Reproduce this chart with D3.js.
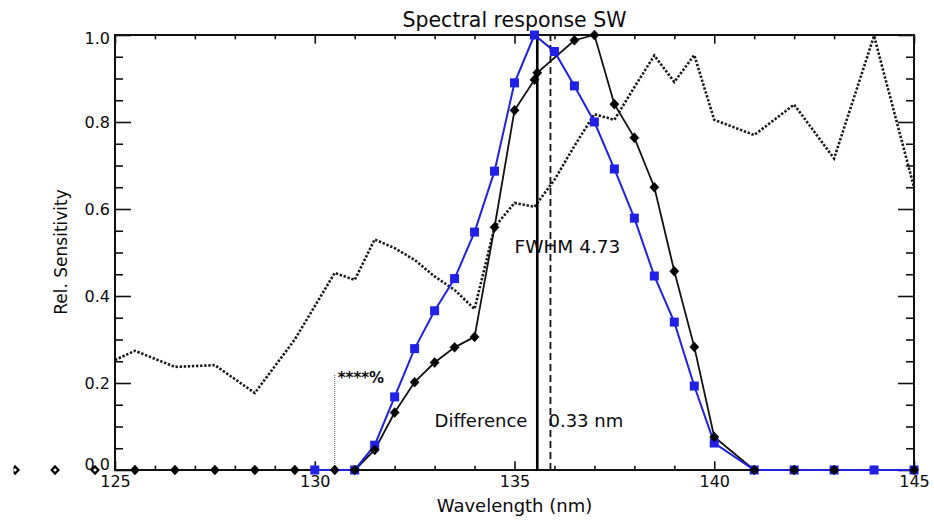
<!DOCTYPE html>
<html>
<head>
<meta charset="utf-8">
<script src="https://cdn.jsdelivr.net/npm/d3@7"></script>
<style>
body { margin: 0; background: #fff; }
svg { display: block; }
text { font-family: "DejaVu Sans", sans-serif; fill: #0a0a0a; }
</style>
</head>
<body>
<svg id="chart"></svg>
<script>
// measured response (black, diamonds)
var waveBlack = [122.5, 123.5, 124.5, 125.5, 126.5, 127.5, 128.5, 129.5, 130.5, 131, 131.5, 132, 132.5, 133, 133.5, 134, 134.5, 135, 135.5, 135.57, 136.5, 137, 137.5, 138, 138.5, 139, 139.5, 140, 141, 142, 143, 145];
var sensBlack = [0, 0, 0, 0, 0, 0, 0, 0, 0, 0, 0.046, 0.132, 0.202, 0.247, 0.282, 0.306, 0.558, 0.827, 0.897, 0.913, 0.988, 1.0, 0.841, 0.764, 0.65, 0.457, 0.283, 0.076, 0, 0, 0, 0];

// shifted response (blue, squares)
var waveBlue = [130, 131, 131.5, 132, 132.5, 133, 133.5, 134, 134.5, 135, 135.5, 136, 136.5, 137, 137.5, 138, 138.5, 139, 139.5, 140, 141, 142, 143, 144, 145];
var sensBlue = [0, 0, 0.057, 0.168, 0.279, 0.366, 0.44, 0.547, 0.687, 0.89, 1.0, 0.962, 0.883, 0.80, 0.692, 0.579, 0.446, 0.34, 0.193, 0.062, 0, 0, 0, 0, 0];

// dotted curve
var waveDot = [125, 125.5, 126.5, 127.5, 128.5, 129.5, 130.5, 131, 131.5, 132, 132.5, 133, 133.5, 134, 134.5, 135, 135.5, 136, 136.5, 137, 137.5, 138, 138.5, 139, 139.5, 140, 141, 142, 143, 144, 145];
var sensDot = [0.253, 0.274, 0.237, 0.241, 0.177, 0.30, 0.453, 0.437, 0.53, 0.51, 0.483, 0.445, 0.414, 0.37, 0.558, 0.614, 0.605, 0.667, 0.745, 0.818, 0.805, 0.88, 0.953, 0.892, 0.954, 0.805, 0.77, 0.84, 0.716, 0.998, 0.65];

var xTicks = [125, 130, 135, 140, 145];
var yTicks = [0, 0.2, 0.4, 0.6, 0.8, 1.0];
var centerWave = 135.57;
var diffNm = 0.33;
var fwhm = 4.73;
var cutWave = 130.5, cutLevel = 0.2;

var width = 934,
	height = 521;
var pLeft = 115, pRight = 914, pTop = 35, pBottom = 470;

var svg = d3.select("#chart")
	.attr("width", width)
	.attr("height", height);

var x = d3.scaleLinear().domain([125, 145]).range([pLeft, pRight]);
var y = d3.scaleLinear().domain([0, 1]).range([pBottom, pTop]);

svg.append("defs").append("clipPath").attr("id", "plotclip")
	.append("rect")
	.attr("x", pLeft).attr("y", pTop - 2)
	.attr("width", pRight - pLeft).attr("height", pBottom - pTop + 4);

// axes: ticks point inward, IDL style
var xMajor = 0.02 * (pBottom - pTop), yMajor = 0.02 * (pRight - pLeft);
function axisGroup(axis, tx, ty) {
	var g = svg.append("g")
		.attr("transform", "translate(" + tx + "," + ty + ")")
		.call(axis);
	g.select(".domain").remove();
	g.selectAll("line").attr("stroke", "#111").attr("stroke-width", 1.6);
	g.selectAll("text").style("font-size", "16px").style("font-family", "DejaVu Sans");
	return g;
}
var minorX = d3.range(125, 146, 1).filter(function (d) { return d % 5 != 0; });
var minorY = d3.range(0, 1.001, 0.05).filter(function (d) { return Math.round(d * 20) % 4 != 0; });

axisGroup(d3.axisBottom(x).tickValues(xTicks).tickSize(-xMajor).tickPadding(6).tickFormat(d3.format("d")), 0, pBottom);
axisGroup(d3.axisBottom(x).tickValues(minorX).tickSize(-xMajor / 2).tickFormat(""), 0, pBottom);
axisGroup(d3.axisTop(x).tickValues(xTicks).tickSize(-xMajor).tickFormat(""), 0, pTop);
axisGroup(d3.axisTop(x).tickValues(minorX).tickSize(-xMajor / 2).tickFormat(""), 0, pTop);
var yAx = axisGroup(d3.axisLeft(y).tickValues(yTicks).tickSize(-yMajor).tickPadding(5).tickFormat(d3.format(".1f")), pLeft, 0);
// keep the end labels inside the frame height, as in the original
yAx.selectAll("text").attr("dy", function (d) { return d == 0 ? "-0.05em" : (d == 1 ? "0.55em" : "0.32em"); });
axisGroup(d3.axisLeft(y).tickValues(minorY).tickSize(-yMajor / 2).tickFormat(""), pLeft, 0);
axisGroup(d3.axisRight(y).tickValues(yTicks).tickSize(-yMajor).tickFormat(""), pRight, 0);
axisGroup(d3.axisRight(y).tickValues(minorY).tickSize(-yMajor / 2).tickFormat(""), pRight, 0);

svg.append("rect")
	.attr("x", pLeft).attr("y", pTop)
	.attr("width", pRight - pLeft).attr("height", pBottom - pTop)
	.attr("fill", "none").attr("stroke", "#111").attr("stroke-width", 2);

function pts(w, s) {
	return w.map(function (d, i) { return { x: d, y: s[i] }; });
}
var line = d3.line()
	.x(function (d) { return x(d.x); })
	.y(function (d) { return y(d.y); });

var plot = svg.append("g").attr("clip-path", "url(#plotclip)");

// dotted curve
plot.append("path")
	.datum(pts(waveDot, sensDot))
	.attr("d", line)
	.attr("fill", "none")
	.attr("stroke", "#1a1a1a")
	.attr("stroke-width", 2.6)
	.attr("stroke-dasharray", "2.4,1.7");

// cut level marker
svg.append("line")
	.attr("x1", x(cutWave)).attr("x2", x(cutWave))
	.attr("y1", y(0)).attr("y2", y(cutLevel + 0.02))
	.attr("stroke", "#555").attr("stroke-width", 1)
	.attr("stroke-dasharray", "1,1");
svg.append("text")
	.attr("x", x(cutWave) + 3)
	.attr("y", y(cutLevel))
	.style("font-size", "15px")
	.style("font-weight", "bold")
	.text("****%");

// center line and shifted center
svg.append("line")
	.attr("x1", x(centerWave)).attr("x2", x(centerWave))
	.attr("y1", y(0)).attr("y2", y(1))
	.attr("stroke", "#000").attr("stroke-width", 2.6);
svg.append("line")
	.attr("x1", x(centerWave + diffNm)).attr("x2", x(centerWave + diffNm))
	.attr("y1", y(0)).attr("y2", y(1))
	.attr("stroke", "#111").attr("stroke-width", 1.8)
	.attr("stroke-dasharray", "7,4");

// black curve
plot.append("path")
	.datum(pts(waveBlack, sensBlack))
	.attr("d", line)
	.attr("fill", "none")
	.attr("stroke", "#111")
	.attr("stroke-width", 1.8);

// blue curve
var blue = "#2020e6";
plot.append("path")
	.datum(pts(waveBlue, sensBlue))
	.attr("d", line)
	.attr("fill", "none")
	.attr("stroke", blue)
	.attr("stroke-width", 2);
svg.selectAll(".bluept")
	.data(pts(waveBlue, sensBlue))
	.enter().append("rect")
	.attr("class", "bluept")
	.attr("x", function (d) { return x(d.x) - 4.5; })
	.attr("y", function (d) { return y(d.y) - 4.5; })
	.attr("width", 9).attr("height", 9)
	.attr("fill", blue);

// diamonds, hollow where outside the frame
var diamond = "M0,-5L4.6,0L0,5L-4.6,0Z";
svg.append("defs").append("clipPath").attr("id", "leftclip")
	.append("rect").attr("x", 13.5).attr("y", 0).attr("width", width).attr("height", height);
svg.append("g").attr("clip-path", "url(#leftclip)")
	.selectAll(".blackpt")
	.data(pts(waveBlack, sensBlack))
	.enter().append("path")
	.attr("class", "blackpt")
	.attr("d", function (d) { return d.x < 125 ? "M0,-3.6L3.4,0L0,3.6L-3.4,0Z" : diamond; })
	.attr("transform", function (d) { return "translate(" + x(d.x) + "," + y(d.y) + ")"; })
	.attr("fill", function (d) { return d.x < 125 ? "none" : "#000"; })
	.attr("stroke", "#000")
	.attr("stroke-width", function (d) { return d.x < 125 ? 2.2 : 0.5; });

// annotations
svg.append("text")
	.attr("x", x(135.0)).attr("y", y(0.5))
	.style("font-size", "18.5px")
	.text("FWHM " + fwhm.toFixed(2));
svg.append("text")
	.attr("x", x(133.0)).attr("y", y(0.099))
	.style("font-size", "18px")
	.text("Difference");
svg.append("text")
	.attr("x", x(135.85)).attr("y", y(0.099))
	.style("font-size", "18px")
	.text(diffNm.toFixed(2) + " nm");

// titles
svg.append("text")
	.attr("x", (pLeft + pRight) / 2).attr("y", 27)
	.attr("text-anchor", "middle")
	.style("font-size", "20.5px")
	.text("Spectral response SW");
svg.append("text")
	.attr("x", (pLeft + pRight) / 2).attr("y", 512)
	.attr("text-anchor", "middle")
	.style("font-size", "18px")
	.text("Wavelength (nm)");
svg.append("text")
	.attr("transform", "translate(67," + 252 + ") rotate(-90)")
	.attr("text-anchor", "middle")
	.style("font-size", "17px")
	.text("Rel. Sensitivity");
</script>
</body>
</html>
